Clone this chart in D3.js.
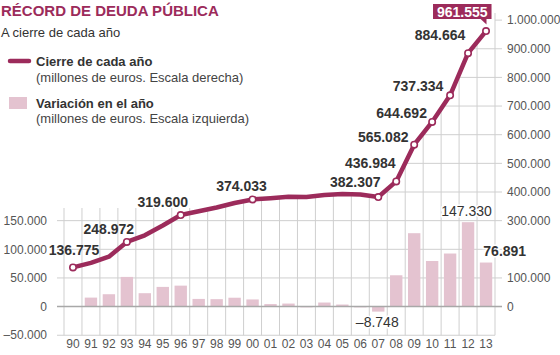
<!DOCTYPE html>
<html>
<head>
<meta charset="utf-8">
<script src="https://cdn.jsdelivr.net/npm/d3@7"></script>
<style>
  html, body { margin: 0; padding: 0; background: #fff; }
  svg { display: block; font-family: "Liberation Sans", Arial, sans-serif; }
</style>
</head>
<body>
<svg id="chart" width="560" height="355"></svg>
<script>
// ---------- DATA ----------
const years = ["90","91","92","93","94","95","96","97","98","99","00","01","02","03","04","05","06","07","08","09","10","11","12","13"];
// Deuda a cierre de cada año (millones de euros) - escala derecha
const debt = [136775, 152500, 174100, 225600, 248972, 283000, 319600, 333000, 346000, 361500, 374033, 378400, 383700, 382400, 389500, 393100, 391055, 382307, 436984, 565082, 644692, 737334, 884664, 961555];
// Variación en el año (millones de euros) - escala izquierda
const change = [null, 15700, 21600, 51800, 23400, 34400, 36600, 13400, 13000, 15500, 12500, 4400, 5300, -1300, 7100, 3600, -1300, -8748, 54677, 128098, 79610, 92642, 147330, 76891];
const markedYears = ["90","93","96","00","07","08","09","10","11","12","13"];
const markedLabels = ["136.775","248.972","319.600","374.033","382.307","436.984","565.082","644.692","737.334","884.664","961.555"];
const changeLabelYears = ["07","12","13"];
const changeLabelTexts = ["\u20138.748","147.330","76.891"];
const rightTicks = [0,100000,200000,300000,400000,500000,600000,700000,800000,900000,1000000];
const rightTickLabels = [0,100000,300000,400000,500000,600000,700000,800000,900000,1000000];
const leftTicks = [-50000,0,50000,100000,150000];
const gridValuesRight = [-100000,0,100000,200000,300000,400000,500000,600000,700000,800000,900000,1000000];

// ---------- SETUP ----------
const C_MAIN = "#9c2b5b";
const C_BAR = "#e4c3d0";
const C_GRID = "#cfcfcf";
const C_TEXT = "#333";
const C_AXIS = "#555";

const loc = d3.formatLocale({decimal: ",", thousands: ".", grouping: [3], currency: ["", "€"], minus: "\u2013"});
const fmt = loc.format(",d");

const svg = d3.select("#chart");
const W = 560, H = 355;
const plotL = 64, plotR = 495, plotTop = 20.1, plotBot = 335.25;

const x = d3.scaleBand().domain(years).range([plotL, plotR]).paddingInner(0.31).paddingOuter(0.155);
const step = x.step();
const yR = d3.scaleLinear().domain([-100000, 1000000]).range([plotBot, plotTop]);
const yL = d3.scaleLinear().domain([-50000, 500000]).range([plotBot, plotTop]);
const cx = y => x(y) + x.bandwidth() / 2;

svg.append("rect").attr("width", W).attr("height", H).attr("fill", "#fff");

// ---------- CLIP (grid visible below 208 or under the curve) ----------
const defs = svg.append("defs");
const clip = defs.append("clipPath").attr("id", "gridclip");
clip.append("rect").attr("x", 0).attr("y", 208).attr("width", W).attr("height", H - 208);
const areaPts = years.map((yr, i) => [cx(yr), yR(debt[i])]);
const last = areaPts[areaPts.length - 1];
const poly = [[areaPts[0][0], H]].concat(areaPts, [[plotR + 1, last[1]], [plotR + 1, H]]);
clip.append("path").attr("d", "M" + poly.map(p => p.join(",")).join("L") + "Z");

// ---------- GRID ----------
const grid = svg.append("g").attr("clip-path", "url(#gridclip)");
grid.selectAll("line.h").data(gridValuesRight.filter(v => v !== 0)).join("line")
  .attr("x1", 57).attr("x2", plotR)
  .attr("y1", d => yR(d)).attr("y2", d => yR(d))
  .attr("stroke", C_GRID).attr("stroke-width", 1);
const vb = d3.range(years.length).map(i => plotL + i * step);
grid.selectAll("line.v").data(vb).join("line")
  .attr("x1", d => d).attr("x2", d => d)
  .attr("y1", plotTop).attr("y2", plotBot)
  .attr("stroke", C_GRID).attr("stroke-width", 1);

// right edge + right ticks (unclipped)
svg.append("line").attr("x1", plotR).attr("x2", plotR).attr("y1", 13).attr("y2", plotBot)
  .attr("stroke", C_GRID).attr("stroke-width", 1);
svg.selectAll("line.rt").data(rightTicks).join("line")
  .attr("x1", plotR).attr("x2", 502)
  .attr("y1", d => yR(d)).attr("y2", d => yR(d))
  .attr("stroke", C_GRID).attr("stroke-width", 1);

// ---------- BARS ----------
const barData = years.map((yr, i) => ({yr, v: change[i]})).filter(d => d.v !== null);
svg.append("g").selectAll("rect").data(barData).join("rect")
  .attr("x", d => x(d.yr))
  .attr("width", x.bandwidth())
  .attr("y", d => Math.min(yL(d.v), yL(0)))
  .attr("height", d => Math.abs(yL(d.v) - yL(0)))
  .attr("fill", C_BAR);

// zero line
svg.append("line").attr("x1", 57).attr("x2", 502).attr("y1", yL(0)).attr("y2", yL(0))
  .attr("stroke", "#a8a8a8").attr("stroke-width", 1.5);

// ---------- AXES TEXT ----------
svg.append("g").selectAll("text").data(rightTickLabels).join("text")
  .attr("x", 507).attr("y", d => yR(d)).attr("dy", "0.35em")
  .attr("font-size", 12).attr("fill", C_AXIS)
  .text(d => fmt(d));
svg.append("g").selectAll("text").data(leftTicks).join("text")
  .attr("x", 47).attr("y", d => yL(d)).attr("dy", "0.35em")
  .attr("text-anchor", "end")
  .attr("font-size", 12).attr("fill", C_AXIS)
  .text(d => fmt(d));
svg.append("g").selectAll("text").data(years).join("text")
  .attr("x", d => cx(d)).attr("y", 348)
  .attr("text-anchor", "middle")
  .attr("font-size", 12).attr("fill", C_AXIS)
  .text(d => d);

// ---------- LINE ----------
const line = d3.line().x((d, i) => cx(years[i])).y(d => yR(d));
svg.append("path").datum(debt).attr("d", line)
  .attr("fill", "none").attr("stroke", C_MAIN).attr("stroke-width", 4.5)
  .attr("stroke-linejoin", "round").attr("stroke-linecap", "round");

const marks = markedYears.map((yr, k) => {
  const i = years.indexOf(yr);
  return {yr, v: debt[i], label: markedLabels[k], px: cx(yr), py: yR(debt[i])};
});
svg.append("g").selectAll("circle").data(marks).join("circle")
  .attr("cx", d => d.px).attr("cy", d => d.py).attr("r", 3.2)
  .attr("fill", "#fff").attr("stroke", C_MAIN).attr("stroke-width", 1.6);

// label offsets (text centre / baseline relative to the point)
const off = {"90":[1,-12],"93":[-18,-8],"96":[-18,-8],"00":[-11,-8.5],"07":[-23,-10.5],"08":[-26,-13],
             "09":[-31,-2.5],"10":[-30.5,-3.7],"11":[-32,-4.6],"12":[-28,-13]};
svg.append("g").selectAll("text").data(marks.filter(d => d.yr !== "13")).join("text")
  .attr("x", d => d.px + off[d.yr][0]).attr("y", d => d.py + off[d.yr][1])
  .attr("text-anchor", "middle").attr("font-size", 14).attr("font-weight", "bold")
  .attr("fill", C_TEXT).text(d => d.label);

// callout for last value
const lm = marks.find(d => d.yr === "13");
const bx0 = lm.px - 53, bx1 = lm.px + 5.5, by0 = 4, by1 = 19;
svg.append("rect").attr("x", bx0).attr("y", by0).attr("width", bx1 - bx0).attr("height", by1 - by0).attr("fill", C_MAIN);
svg.append("path").attr("d", `M${lm.px - 6},${by1 - 0.5}L${lm.px + 0.5},${by1 - 0.5}L${lm.px + 0.5},${by1 + 5.5}Z`).attr("fill", C_MAIN);
svg.append("text").attr("x", (bx0 + bx1) / 2).attr("y", 16.5).attr("text-anchor", "middle")
  .attr("font-size", 14).attr("font-weight", "bold").attr("fill", "#fff").text(lm.label);

// ---------- BAR LABELS ----------
const bl = changeLabelYears.map((yr, k) => ({yr, v: change[years.indexOf(yr)], text: changeLabelTexts[k]}));
const blPos = {
  "07": d => [cx(d.yr) - 1, yL(d.v) + 15, "middle", "normal"],
  "12": d => [cx(d.yr) - 1.5, yL(d.v) - 6, "middle", "normal"],
  "13": d => [x(d.yr) + 3.5, yL(d.v) - 6.5, "start", "bold"]
};
svg.append("g").selectAll("text").data(bl).join("text")
  .each(function(d) {
    const p = blPos[d.yr](d);
    d3.select(this).attr("x", p[0]).attr("y", p[1]).attr("text-anchor", p[2]).attr("font-weight", p[3]);
  })
  .attr("font-size", 14).attr("fill", C_TEXT)
  .attr("stroke", "#fff").attr("stroke-width", 3).attr("paint-order", "stroke")
  .text(d => d.text);

// ---------- TITLE & LEGEND ----------
svg.append("text").attr("x", 1).attr("y", 16).attr("font-size", 15).attr("font-weight", "bold")
  .attr("fill", C_MAIN).text("RÉCORD DE DEUDA PÚBLICA");
svg.append("text").attr("x", 1).attr("y", 36.5).attr("font-size", 13).attr("fill", C_TEXT)
  .text("A cierre de cada año");

svg.append("line").attr("x1", 10).attr("x2", 29).attr("y1", 61).attr("y2", 61)
  .attr("stroke", C_MAIN).attr("stroke-width", 4.5).attr("stroke-linecap", "round");
svg.append("text").attr("x", 36).attr("y", 66).attr("font-size", 13).attr("font-weight", "bold")
  .attr("fill", C_TEXT).text("Cierre de cada año");
svg.append("text").attr("x", 36).attr("y", 81.5).attr("font-size", 13).attr("fill", "#444")
  .text("(millones de euros. Escala derecha)");

svg.append("rect").attr("x", 9).attr("y", 97).attr("width", 18).attr("height", 12).attr("fill", C_BAR);
svg.append("text").attr("x", 36).attr("y", 108).attr("font-size", 13).attr("font-weight", "bold")
  .attr("fill", C_TEXT).text("Variación en el año");
svg.append("text").attr("x", 36).attr("y", 123).attr("font-size", 13).attr("fill", "#444")
  .text("(millones de euros. Escala izquierda)");
</script>
</body>
</html>
